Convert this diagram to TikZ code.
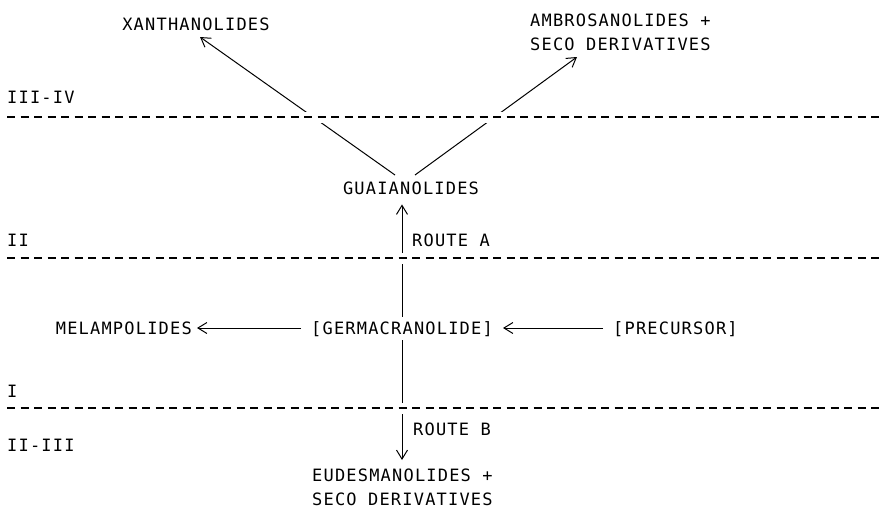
\documentclass[tikz,border=0pt]{standalone}
\usepackage{fontspec}
\newfontfamily\plotfont[LetterSpace=7]{DejaVu Sans Mono}
\usetikzlibrary{arrows.meta}
\tikzset{
  lbl/.style={font=\plotfont\fontsize{17}{20}\selectfont, inner sep=0pt, text height=12.5pt, text depth=0pt},
  lbltwo/.style={font=\plotfont\fontsize{17}{24}\selectfont, inner sep=0pt, align=left},
  arr/.style={line width=1pt, -{Straight Barb[length=9pt,width=11pt,line width=1pt]}},
  gapband/.style={line width=11pt, white},
  dashline/.style={line width=1.2pt, dash pattern=on 8pt off 5.5pt}
}
\begin{document}
\begin{tikzpicture}[x=1pt,y=-1pt]
\useasboundingbox (0,0) rectangle (880,514);
% level labels
\node[lbl,anchor=west] (l34) at (7,97) {III-IV};
\node[lbl,anchor=west] (l2) at (7,240) {II};
\node[lbl,anchor=west] (l1) at (7,391) {I};
\node[lbl,anchor=west] (l23) at (7,445) {II-III};
% compounds
\node[lbl] (xan) at (196,24) {XANTHANOLIDES};
\node[lbltwo,anchor=north west] (amb) at (530,14) {AMBROSANOLIDES +\\SECO DERIVATIVES};
\node[lbl] (gua) at (411,188) {GUAIANOLIDES};
\node[lbl,anchor=west] (ra) at (412,240) {ROUTE A};
\node[lbl] (ger) at (402,328) {[GERMACRANOLIDE]};
\node[lbl,anchor=east] (mel) at (192,328) {MELAMPOLIDES};
\node[lbl,anchor=west] (pre) at (613,328) {[PRECURSOR]};
\node[lbl,anchor=west] (rb) at (413,429) {ROUTE B};
\node[lbltwo,anchor=north west] (eud) at (312,469) {EUDESMANOLIDES +\\SECO DERIVATIVES};
% connector end points
\coordinate (gx) at (395,175);
\coordinate (ga) at (415,175);
\coordinate (xt) at (200,37);
\coordinate (at) at (577,57);
% connectors
\draw[arr] (gx) -- (xt);
\draw[arr] (ga) -- (at);
\draw[arr] ([yshift=5pt]ger.north) -- ([yshift=-10pt]gua.south -| ger.north);
\draw[arr] ([yshift=-6pt]ger.south) -- ([yshift=9pt]eud.north -| ger.south);
\draw[arr] ([xshift=-10pt]ger.west) -- ([xshift=5pt]mel.east);
\draw[arr] ([xshift=-10pt]pre.west) -- ([xshift=10pt]ger.east);
% level lines (they break the connectors where they cross)
\foreach \yy in {117,258,408}{
  \draw[gapband] (7,\yy) -- (880,\yy);
  \draw[dashline] (7,\yy) -- (880,\yy);
}
\end{tikzpicture}
\end{document}
